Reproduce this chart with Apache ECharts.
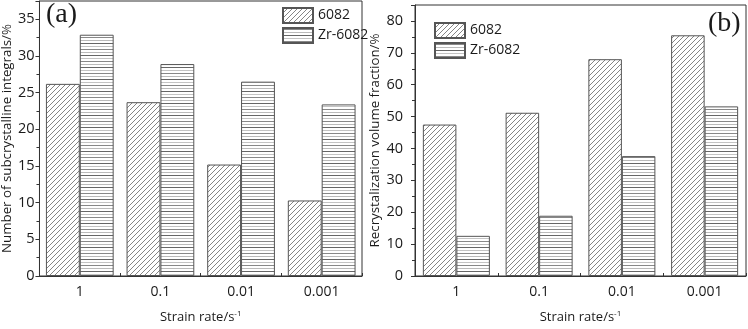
<!DOCTYPE html>
<html>
<head>
<meta charset="utf-8">
<script src="https://cdn.jsdelivr.net/npm/echarts@6/dist/echarts.min.js"></script>
<style>
  html, body { margin: 0; padding: 0; background: #fff; }
  #chart { width: 748px; height: 329px; }
</style>
</head>
<body>
<div id="chart"></div>
<script>
// data
const strainRates = ["1", "0.1", "0.01", "0.001"];
const subgrain6082 = [26.2, 23.7, 15.2, 10.3];
const subgrainZr6082 = [32.9, 28.9, 26.5, 23.4];
const recryst6082 = [47.5, 51.2, 68.0, 75.5];
const recrystZr6082 = [12.6, 18.9, 37.6, 53.2];

// hatch fills
function diagPattern() {
  const c = document.createElement("canvas");
  c.width = 5; c.height = 5;
  const g = c.getContext("2d");
  g.fillStyle = "#fff";
  g.fillRect(0, 0, 5, 5);
  g.strokeStyle = "#777";
  g.lineWidth = 0.9;
  g.beginPath();
  g.moveTo(-1, 6); g.lineTo(6, -1);
  g.moveTo(-1, 1); g.lineTo(1, -1);
  g.moveTo(4, 6); g.lineTo(6, 4);
  g.stroke();
  return c;
}
function horizPattern() {
  const c = document.createElement("canvas");
  c.width = 4; c.height = 12;
  const g = c.getContext("2d");
  g.fillStyle = "#fff";
  g.fillRect(0, 0, 4, 12);
  const lines = [[1, "#888"], [4, "#bbb"], [7, "#666"], [10, "#c4c4c4"]];
  lines.forEach(([y, col]) => {
    g.fillStyle = col;
    g.fillRect(0, y, 4, 1);
  });
  return c;
}

const colors = {
  text: "#1a1a1a",
  axis: "#333",
  border: "#555",
};
const fill6082 = { image: diagPattern(), repeat: "repeat" };
const fillZr = { image: horizPattern(), repeat: "repeat" };

const font = "Open Sans";
const chart = echarts.init(document.getElementById("chart"));

function xAxisFor(gridIndex) {
  return {
    type: "category",
    gridIndex: gridIndex,
    data: strainRates,
    name: "Strain rate/s{sup|-1}",
    nameLocation: "middle",
    nameGap: 34,
    nameTextStyle: {
      color: colors.text,
      fontFamily: font,
      fontSize: 13,
      rich: {
        sup: { fontSize: 8, fontFamily: font, color: colors.text, padding: [0, 0, 7, 0] },
      },
    },
    axisLine: { lineStyle: { color: colors.axis } },
    axisTick: { show: true, inside: true, length: 3, lineStyle: { color: colors.axis } },
    axisLabel: { color: colors.text, fontFamily: font, fontSize: 14, margin: 9 },
  };
}

function yAxisFor(gridIndex, name, max, interval, margin, gap) {
  return {
    type: "value",
    gridIndex: gridIndex,
    min: 0,
    max: max,
    interval: interval,
    name: name,
    nameLocation: "middle",
    nameGap: gap,
    nameTextStyle: { color: colors.text, fontFamily: font, fontSize: 13.3 },
    axisLine: { show: true, lineStyle: { color: colors.axis } },
    axisTick: { show: true, length: 4, lineStyle: { color: colors.axis } },
    minorTick: { show: true, splitNumber: 2, length: 3, lineStyle: { color: colors.axis } },
    splitLine: { show: false },
    axisLabel: {
      color: colors.text,
      fontFamily: font,
      fontSize: 14.5,
      margin: margin,
      showMaxLabel: false,
    },
  };
}

function barSeries(name, data, fill, axisIndex, gap) {
  return {
    name: name,
    type: "bar",
    xAxisIndex: axisIndex,
    yAxisIndex: axisIndex,
    data: data,
    barGap: "0%",
    barCategoryGap: gap,
    itemStyle: { color: fill, borderColor: colors.border, borderWidth: 1 },
    emphasis: { disabled: true },
  };
}

const legendCommon = {
  orient: "vertical",
  padding: 0,
  itemWidth: 30,
  itemHeight: 15,
  itemGap: 3,
  icon: "rect",
  textStyle: { color: colors.text, fontFamily: font, fontSize: 14 },
  data: ["6082", "Zr-6082"],
};

const options = {
  backgroundColor: "#fff",
  animation: false,
  grid: [
    { left: 37, right: 386, top: 1, bottom: 46, show: true, borderColor: colors.axis, borderWidth: 1 },
    { left: 415, right: 2, top: 5, bottom: 43, show: true, borderColor: colors.axis, borderWidth: 1 },
  ],
  legend: [
    Object.assign({ left: 282, top: 7 }, legendCommon),
    Object.assign({ left: 434, top: 22 }, legendCommon),
  ],
  xAxis: [xAxisFor(0), xAxisFor(1)],
  yAxis: [
    yAxisFor(0, "Number of subcrystalline integrals/%", 37.5, 5, 5, 25),
    yAxisFor(1, "Recrystalization volume fraction/%", 85, 10, 12, 33),
  ],
  series: [
    barSeries("6082", subgrain6082, fill6082, 0, "16%"),
    barSeries("Zr-6082", subgrainZr6082, fillZr, 0, "16%"),
    barSeries("6082", recryst6082, fill6082, 1, "19%"),
    barSeries("Zr-6082", recrystZr6082, fillZr, 1, "19%"),
  ],
  graphic: [
    {
      type: "text", left: 46, top: 1,
      style: { text: "(a)", font: "28px 'Liberation Serif'", fill: colors.text },
    },
    {
      type: "text", left: 708, top: 10,
      style: { text: "(b)", font: "28px 'Liberation Serif'", fill: colors.text },
    },
  ],
};

chart.setOption(options);
</script>
</body>
</html>
